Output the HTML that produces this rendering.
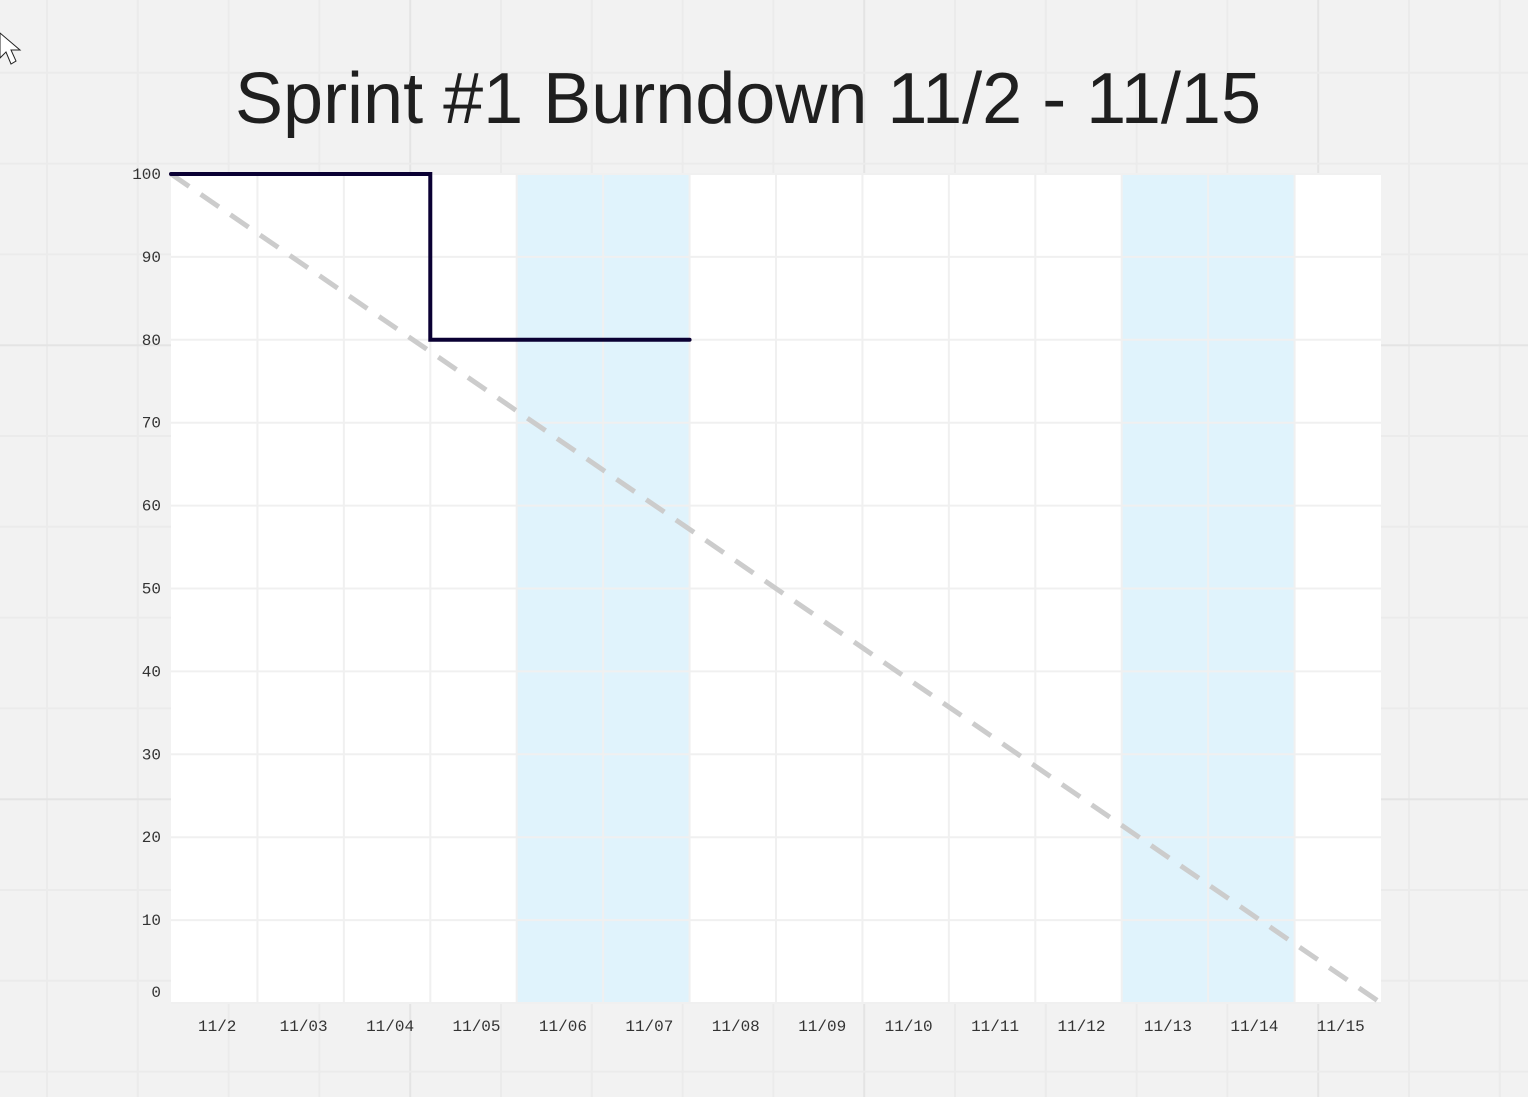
<!DOCTYPE html>
<html><head><meta charset="utf-8"><style>
body{margin:0;width:1528px;height:1097px;overflow:hidden;background:#f2f2f2;}
svg{display:block}
</style></head><body>
<svg id="c" width="1528" height="1097">
<g id="bg"></g>
<text x="748" y="123" text-anchor="middle" font-family="Liberation Sans, sans-serif" font-size="72" fill="#1f1f1f">Sprint #1 Burndown 11/2 - 11/15</text>
<rect x="171" y="174" width="1210" height="829" fill="#fff"/>
<g id="shade"></g><g id="grid"></g><g id="lines"></g><g id="labels"></g>
<path d="M0 33 L0 58 L6 52 L11 64 L16 61 L11 50 L20 50 Z" fill="#fff" stroke="#222" stroke-width="1"/>
</svg>
<script>
const categories=["11/2","11/03","11/04","11/05","11/06","11/07","11/08","11/09","11/10","11/11","11/12","11/13","11/14","11/15"];
const yTicks=[0,10,20,30,40,50,60,70,80,90,100];
const actual=[100,100,100,80,80,80,80];
const ideal=[100,0];
const weekendIdx=[4,5,11,12];
const NS="http://www.w3.org/2000/svg";
const X0=171,X1=1381,Y0=1003,Y1=174,colW=(X1-X0)/categories.length;
const xs=i=>X0+i*colW, ys=v=>Y0-(v/100)*(Y0-Y1);
function mk(tag,attrs,parent){const e=document.createElementNS(NS,tag);for(const k in attrs)e.setAttribute(k,attrs[k]);document.getElementById(parent).appendChild(e);return e;}
for(let x=47,i=0;x<1528;x+=90.8,i++){const e=mk('line',{x1:x,x2:x,y1:0,y2:1097,stroke:(i%5==4)?'#e4e4e4':'#ebebeb','stroke-width':2},'bg');

}
for(let y=-18,i=0;y<1097;y+=90.8,i++){const e=mk('line',{x1:0,x2:1528,y1:y,y2:y,stroke:(i%5==4)?'#e4e4e4':'#ebebeb','stroke-width':2},'bg');

}
weekendIdx.forEach(i=>{const e=mk('rect',{x:xs(i),y:Y1,width:colW,height:Y0-Y1,fill:'#e0f3fc'},'shade');

});
for(let i=1;i<categories.length;i++){const e=mk('line',{x1:xs(i),x2:xs(i),y1:Y1,y2:Y0,stroke:'#f0f0f0','stroke-width':2},'grid');

}
yTicks.forEach(v=>{const e=mk('line',{x1:X0,x2:X1,y1:ys(v),y2:ys(v),stroke:'#f0f0f0','stroke-width':2},'grid');


const t=mk('text',{x:161,y:(v===0?ys(v)-6:ys(v)+5),'text-anchor':'end','font-family':'Liberation Mono, monospace','font-size':16,fill:'#333'},'labels');t.textContent=v;

});
categories.forEach((c,i)=>{const t=mk('text',{x:xs(i)+colW/2+3,y:1031,'text-anchor':'middle','font-family':'Liberation Mono, monospace','font-size':16,fill:'#333'},'labels');t.textContent=c;

});
const il=mk('line',{x1:xs(0),y1:ys(ideal[0]),x2:xs(categories.length),y2:ys(ideal[1]),stroke:'#cccccc','stroke-width':5,'stroke-dasharray':'22 14'},'lines');


let d='M'+xs(0)+' '+ys(actual[0]);
for(let i=1;i<actual.length;i++){d+=' L'+xs(i)+' '+ys(actual[i-1])+' L'+xs(i)+' '+ys(actual[i]);}
const al=mk('path',{d:d,fill:'none',stroke:'#0a0033','stroke-width':4,'stroke-linecap':'round'},'lines');


</script>
</body></html>
